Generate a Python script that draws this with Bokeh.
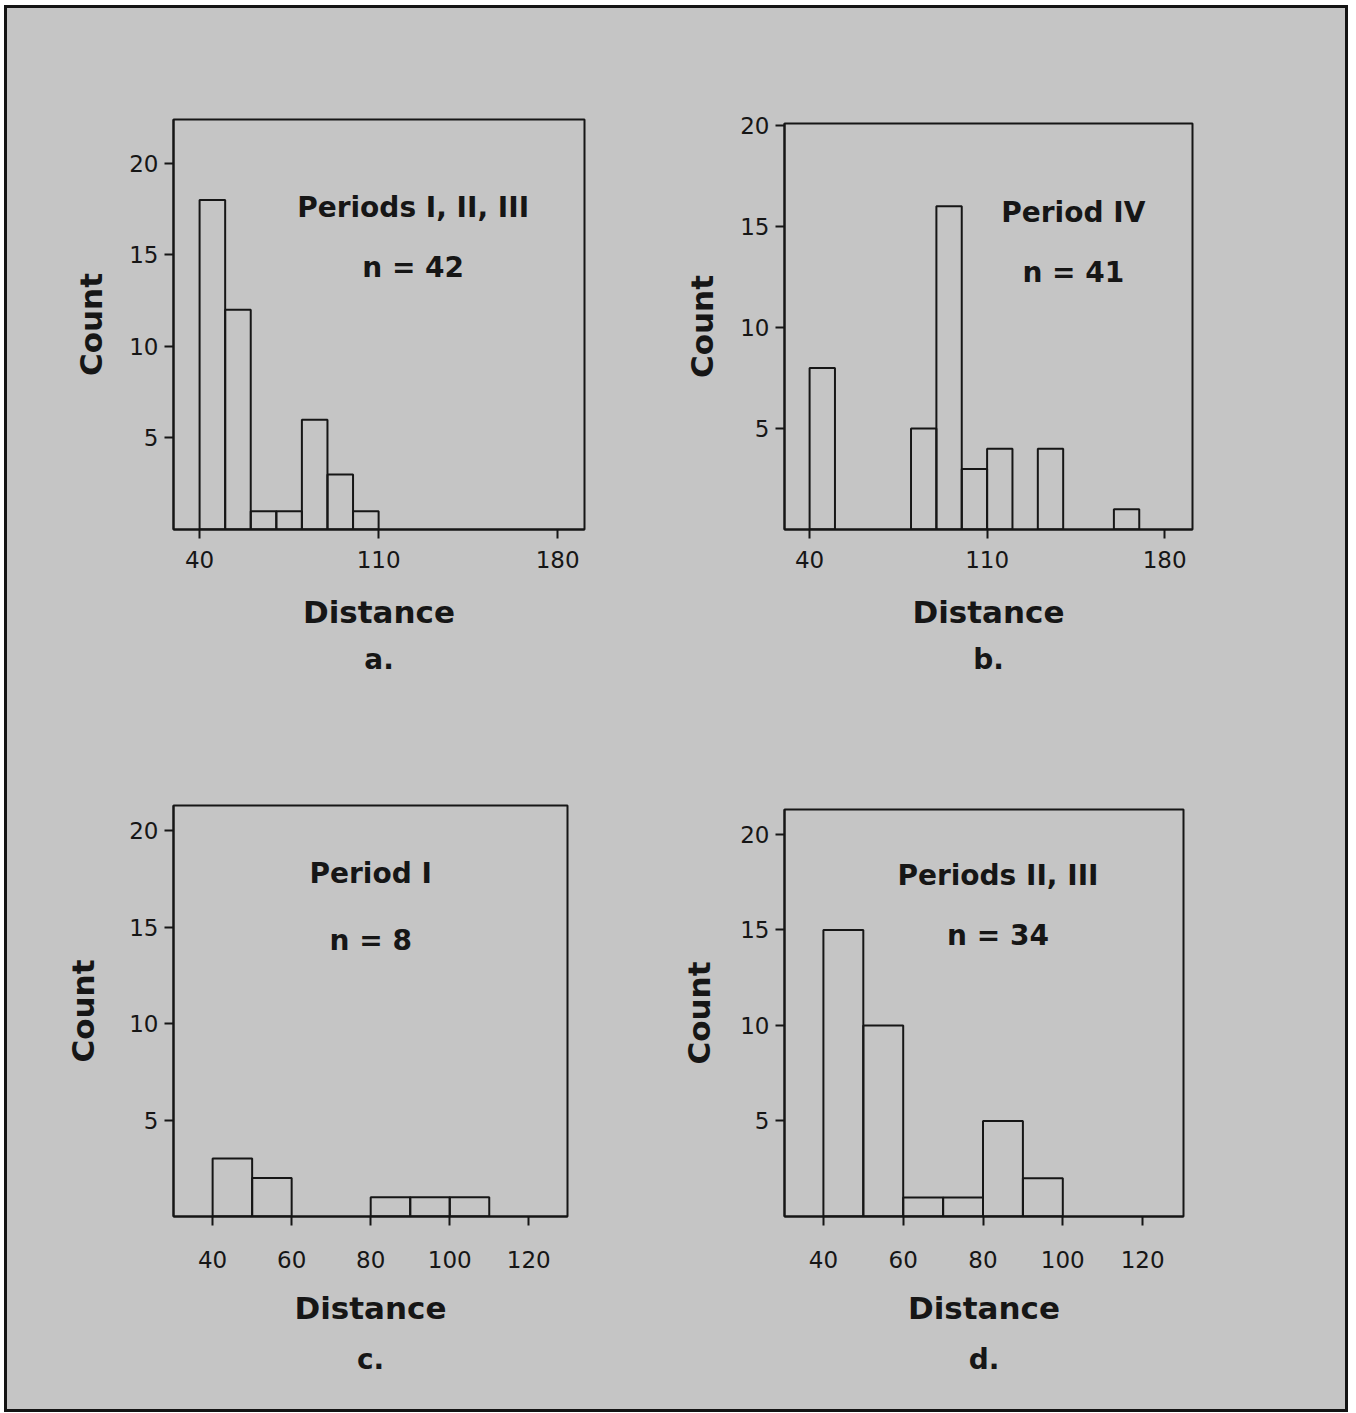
from bokeh.plotting import figure
from bokeh.models import Label, Title, ColumnDataSource, FixedTicker, Range1d
from bokeh.layouts import row, column
from bokeh.embed import file_html
from bokeh.resources import INLINE

# ---- data ----
BIN_WIDTH = 10

a_bins = [40, 50, 60, 70, 80, 90, 100]
a_counts = [18, 12, 1, 1, 6, 3, 1]

b_bins = [40, 80, 90, 100, 110, 130, 160]
b_counts = [8, 5, 16, 3, 4, 4, 1]

c_bins = [40, 50, 80, 90, 100]
c_counts = [3, 2, 1, 1, 1]

d_bins = [40, 50, 60, 70, 80, 90]
d_counts = [15, 10, 1, 1, 5, 2]

wide_ticks = [40, 110, 180]
narrow_ticks = [40, 60, 80, 100, 120]
count_ticks = [5, 10, 15, 20]

titles = ["Periods I, II, III", "Period IV", "Period I", "Periods II, III"]
n_labels = ["n = 42", "n = 41", "n = 8", "n = 34"]
captions = ["a.", "b.", "c.", "d."]
x_label = "Distance"
y_label = "Count"

# ---- style ----
BG = "#c5c5c5"
INK = "#161616"
FONT = "DejaVu Sans"


def panel(bins, counts, title, n_text, caption, xr, yr, xticks, size, borders,
          title_xy, n_xy, x_tick_standoff, x_label_standoff, y_label_standoff,
          caption_standoff):
    w, h = size
    l, r, t, b = borders
    p = figure(width=w, height=h, x_range=Range1d(*xr), y_range=Range1d(*yr),
               output_backend="svg", toolbar_location=None,
               min_border_left=l, min_border_right=r,
               min_border_top=t, min_border_bottom=b,
               background_fill_color=BG, border_fill_color=BG,
               outline_line_color=INK, outline_line_width=2)
    p.grid.visible = False
    src = ColumnDataSource(dict(
        left=bins,
        right=[v + BIN_WIDTH for v in bins],
        top=counts,
        bottom=[0] * len(counts),
    ))
    p.quad(left="left", right="right", top="top", bottom="bottom", source=src,
           fill_color=None, line_color=INK, line_width=2)

    for ax in (p.xaxis[0], p.yaxis[0]):
        ax.axis_line_color = INK
        ax.axis_line_width = 2
        ax.major_tick_line_color = INK
        ax.major_tick_line_width = 2
        ax.minor_tick_line_color = None
        ax.major_tick_in = 0
        ax.major_tick_out = 9
        ax.major_label_text_font = FONT
        ax.major_label_text_font_size = "23px"
        ax.major_label_text_color = INK
        ax.axis_label_text_font = FONT
        ax.axis_label_text_font_size = "31px"
        ax.axis_label_text_font_style = "bold"
        ax.axis_label_text_color = INK

    p.xaxis.ticker = FixedTicker(ticks=xticks)
    p.yaxis.ticker = FixedTicker(ticks=count_ticks)
    p.xaxis.axis_label = x_label
    p.yaxis.axis_label = y_label
    p.xaxis.major_label_standoff = x_tick_standoff
    p.xaxis.axis_label_standoff = x_label_standoff
    p.yaxis.major_label_standoff = 6
    p.yaxis.axis_label_standoff = y_label_standoff

    p.add_layout(Title(text=caption, align="center", text_font=FONT,
                       text_font_size="28px", text_font_style="bold",
                       text_color=INK, standoff=caption_standoff), "below")

    p.add_layout(Label(x=title_xy[0], y=title_xy[1], text=title,
                       text_align="center", text_baseline="middle",
                       text_font=FONT, text_font_size="28px",
                       text_font_style="bold", text_color=INK))
    p.add_layout(Label(x=n_xy[0], y=n_xy[1], text=n_text,
                       text_align="center", text_baseline="middle",
                       text_font=FONT, text_font_size="28px",
                       text_font_style="bold", text_color=INK))
    return p


pa = panel(a_bins, a_counts, titles[0], n_labels[0], captions[0],
           (29.8, 190.5), (0, 22.4), wide_ticks, (671, 698), (166, 94, 111, 177),
           (123.5, 17.6), (123.5, 14.3), 12, 23, 17, 16)
pb = panel(b_bins, b_counts, titles[1], n_labels[1], captions[1],
           (30.1, 191.0), (0, 20.1), wide_ticks, (667, 698), (106, 153, 115, 177),
           (144, 15.7), (144, 12.7), 12, 23, 17, 16)
pc = panel(c_bins, c_counts, titles[2], n_labels[2], captions[2],
           (30.1, 129.8), (0, 21.3), narrow_ticks, (671, 703), (166, 111, 99, 193),
           (80, 17.8), (80, 14.3), 25, 19, 25, 24)
pd = panel(d_bins, d_counts, titles[3], n_labels[3], captions[3],
           (30.25, 130.25), (0, 21.3), narrow_ticks, (667, 703), (105, 162, 103, 193),
           (83.75, 17.85), (83.75, 14.7), 25, 19, 20, 24)

grid = row(column(column(pa), column(pc)), column(column(pb), column(pd)))
layout = column(grid, margin=(5, 0, 0, 4),
                styles={"border": "3px solid #141414", "background-color": BG})

open("out.html", "w").write(file_html(layout, INLINE))
